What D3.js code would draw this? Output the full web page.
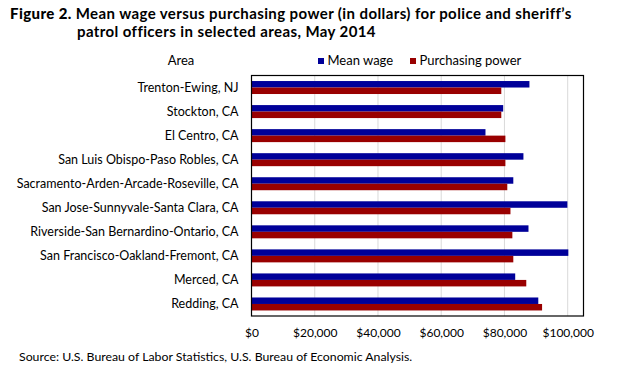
<!DOCTYPE html>
<html>
<head>
<meta charset="utf-8">
<script src="https://cdn.jsdelivr.net/npm/d3@7"></script>
<style>
  body { margin: 0; background: #fff; }
  svg { display: block; }
  text { font-family: Lato, "Open Sans", sans-serif; fill: #000; }
</style>
</head>
<body>
<svg id="chart" width="623" height="374"></svg>
<script>
// --- Data ---
const areas = [
  "Trenton-Ewing, NJ",
  "Stockton, CA",
  "El Centro, CA",
  "San Luis Obispo-Paso Robles, CA",
  "Sacramento-Arden-Arcade-Roseville, CA",
  "San Jose-Sunnyvale-Santa Clara, CA",
  "Riverside-San Bernardino-Ontario, CA",
  "San Francisco-Oakland-Fremont, CA",
  "Merced, CA",
  "Redding, CA"
];
const meanWage =        [87900, 79600, 74000, 86000, 82800, 99900, 87600, 100200, 83400, 90700];
const purchasingPower = [79000, 79000, 80300, 80300, 80900, 81900, 82500, 82800, 86900, 91900];
const seriesNames = ["Mean wage", "Purchasing power"];
const seriesColors = ["#000099", "#990000"];
const xTicks = [0, 20000, 40000, 60000, 80000, 100000];

// --- Layout ---
const W = 623, H = 374;
const plot = { left: 251.5, right: 583.5, top: 75.5, bottom: 316 };

const svg = d3.select("#chart");

const x = d3.scaleLinear().domain([0, 105000]).range([plot.left, plot.right]);
const y = d3.scaleBand().domain(areas).range([plot.top, plot.bottom]).paddingInner(0.46).paddingOuter(0.23);
const ySub = d3.scaleBand().domain(seriesNames).range([0, y.bandwidth()]);

// --- Title ---
const title = svg.append("text").attr("x", 10).attr("y", 19)
  .style("font-size", "15px").style("letter-spacing", "0.4px");
title.append("tspan").attr("font-weight", 900).text("Figure 2. ");
title.append("tspan").attr("font-weight", 700).text("Mean wage versus purchasing power (in dollars) for police and sheriff\u2019s");
svg.append("text").attr("x", 77).attr("y", 37)
  .style("font-size", "15px").style("letter-spacing", "0.4px").attr("font-weight", 700)
  .text("patrol officers in selected areas, May 2014");

// --- Header / legend ---
svg.append("text").attr("x", 181).attr("y", 65).attr("text-anchor", "middle").style("font-size", "13px").text("Area");

const legend = svg.append("g").attr("class", "legend");
const legendX = [318, 410];
seriesNames.forEach((name, i) => {
  const lg = legend.append("g").attr("transform", `translate(${legendX[i]},0)`);
  lg.append("rect").attr("x", 0).attr("y", 58).attr("width", 6).attr("height", 6).attr("fill", seriesColors[i]);
  lg.append("text").attr("x", 9.5).attr("y", 65).style("font-size", "13px").text(name);
});

// --- Gridlines ---
svg.append("g").selectAll("line").data(xTicks.slice(1)).join("line")
  .attr("x1", d => x(d)).attr("x2", d => x(d))
  .attr("y1", plot.top).attr("y2", plot.bottom)
  .attr("stroke", "#d9d9d9").attr("stroke-width", 1);

// --- Bars ---
const rows = areas.map((a, i) => ({ area: a, values: [meanWage[i], purchasingPower[i]] }));
const rowG = svg.append("g").selectAll("g").data(rows).join("g")
  .attr("transform", d => `translate(0,${y(d.area)})`);
rowG.selectAll("rect").data(d => d.values.map((v, i) => ({ key: seriesNames[i], v, c: seriesColors[i] })))
  .join("rect")
  .attr("x", x(0))
  .attr("y", d => ySub(d.key))
  .attr("width", d => x(d.v) - x(0))
  .attr("height", ySub.bandwidth())
  .attr("fill", d => d.c);

// --- Plot border ---
svg.append("rect")
  .attr("x", plot.left).attr("y", plot.top)
  .attr("width", plot.right - plot.left).attr("height", plot.bottom - plot.top)
  .attr("fill", "none").attr("stroke", "#000").attr("stroke-width", 1.2);

// --- Axes (labels only) ---
const yAxis = svg.append("g").attr("transform", `translate(${plot.left - 13},0)`)
  .call(d3.axisLeft(y).tickSize(0).tickPadding(0));
yAxis.select(".domain").remove();
yAxis.selectAll("text").style("font-size", "12.5px").style("font-family", "Lato, 'Open Sans', sans-serif").attr("fill", "#000");

const fmt = d => "$" + d3.format(",")(d);
const xAxis = svg.append("g").attr("transform", `translate(0,${plot.bottom})`)
  .call(d3.axisBottom(x).tickValues(xTicks).tickFormat(fmt).tickSize(0).tickPadding(12));
xAxis.select(".domain").remove();
xAxis.selectAll("text").style("font-size", "12px").style("font-family", "Lato, 'Open Sans', sans-serif").attr("fill", "#000");

// --- Source ---
svg.append("text").attr("x", 19).attr("y", 361).style("font-size", "12.3px")
  .text("Source: U.S. Bureau of Labor Statistics, U.S. Bureau of Economic Analysis.");
</script>
</body>
</html>
